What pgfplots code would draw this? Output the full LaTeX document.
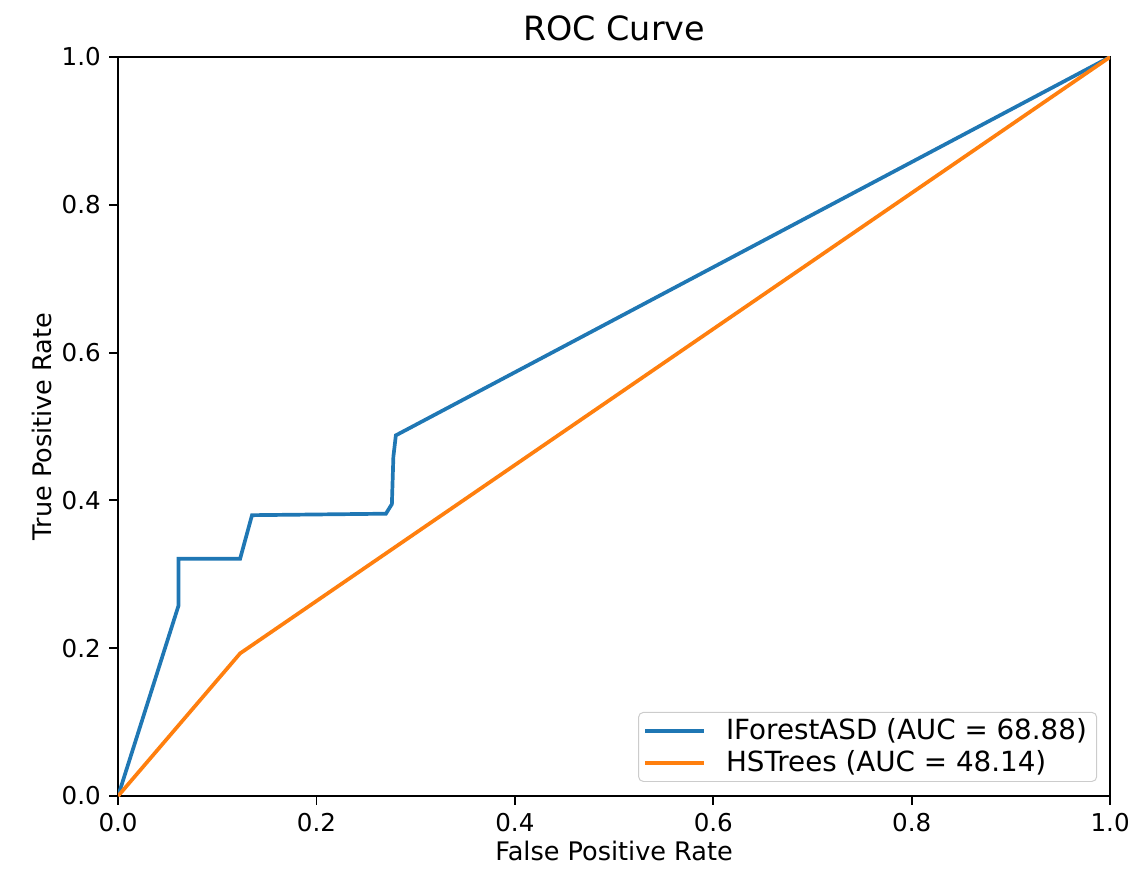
\documentclass[border=0pt]{standalone}
\usepackage{fontspec}
\setmainfont{DejaVu Sans}
\usepackage{pgfplots}
\pgfplotsset{compat=1.18}
\definecolor{tabblue}{HTML}{1F77B4}
\definecolor{taborange}{HTML}{FF7F0E}
\begin{document}
\begin{tikzpicture}
\begin{axis}[
  scale only axis,
  width=402.4bp, height=299.8bp,
  xmin=0, xmax=1, ymin=0, ymax=1,
  xtick={0,0.2,0.4,0.6,0.8,1.0},
  ytick={0,0.2,0.4,0.6,0.8,1.0},
  tick align=outside,
  tick pos=left,
  major tick length=3.5bp,
  every tick/.style={black, line width=0.8bp},
  axis line style={line width=0.8bp},
  /pgf/number format/assume math mode=true,
  xticklabel style={/pgf/number format/.cd, fixed, fixed zerofill, precision=1},
  yticklabel style={/pgf/number format/.cd, fixed, fixed zerofill, precision=1},
  ticklabel style={font=\fontsize{10}{12}\selectfont},
  xlabel={False Positive Rate},
  ylabel={True Positive Rate},
  label style={font=\fontsize{10.4}{12}\selectfont},
  xlabel style={yshift=3bp},
  ylabel style={yshift=-3bp},
  title={ROC Curve},
  title style={font=\fontsize{13.6}{16}\selectfont, yshift=-3bp},
  legend cell align=left,
  legend style={font=\fontsize{11.3}{13.5}\selectfont, draw=black!20, rounded corners=2bp, fill=white, fill opacity=0.8, text opacity=1, at={(0.987,0.019)}, anchor=south east, inner xsep=2bp, inner ysep=0.5bp, row sep=-1bp, /tikz/every odd column/.append style={column sep=6bp}},
  legend image code/.code={\draw[#1] (0bp,0bp) -- (24bp,0bp);},
]
\addplot[tabblue, line width=1.5bp] coordinates {
(0,0) (0.061,0.258) (0.061,0.321) (0.123,0.321) (0.135,0.380) (0.270,0.382) (0.276,0.395) (0.2775,0.459) (0.280,0.488) (1,1)
};
\addlegendentry{IForestASD (AUC = 68.88)}
\addplot[taborange, line width=1.5bp] coordinates {
(0,0) (0.123,0.193) (1,1)
};
\addlegendentry{HSTrees (AUC = 48.14)}
\end{axis}
\pgfresetboundingbox
\path[use as bounding box] (current axis.south west) ++(-47.9bp,-33.3bp) rectangle ([xshift=10.5bp,yshift=23.1bp]current axis.north east);
\end{tikzpicture}
\end{document}
